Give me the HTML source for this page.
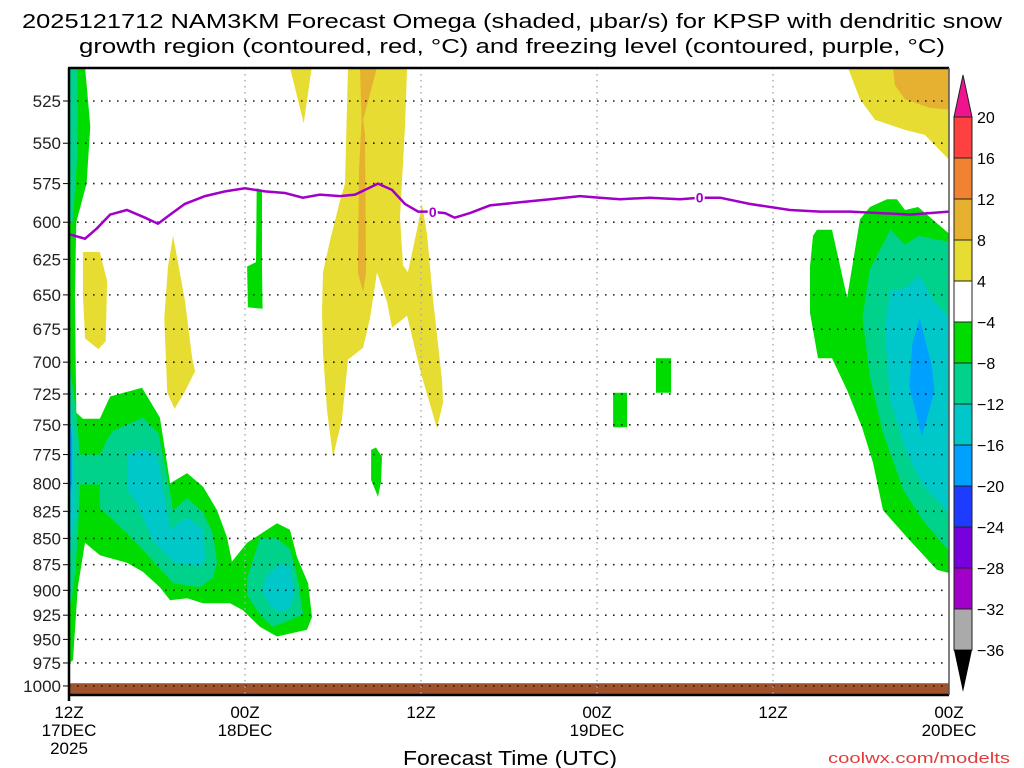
<!DOCTYPE html>
<html><head><meta charset="utf-8"><style>
html,body{margin:0;padding:0;background:#fff;width:1024px;height:768px;overflow:hidden}
svg{display:block;font-family:"Liberation Sans",sans-serif}
</style></head><body>
<svg id="chart" width="1024" height="768" viewBox="0 0 1024 768" xmlns="http://www.w3.org/2000/svg">
<text x="512" y="28" font-size="20" text-anchor="middle" textLength="980" lengthAdjust="spacingAndGlyphs">2025121712 NAM3KM Forecast Omega (shaded, μbar/s) for KPSP with dendritic snow</text>
<text x="512" y="53" font-size="20" text-anchor="middle" textLength="866" lengthAdjust="spacingAndGlyphs">growth region (contoured, red, °C) and freezing level (contoured, purple, °C)</text>
<g id="shades"></g>
<g id="grid"></g>
<g id="frz"></g>
<g id="axes"></g>
<g id="cbar"></g>
<text x="510" y="765" font-size="20" text-anchor="middle" textLength="214" lengthAdjust="spacingAndGlyphs">Forecast Time (UTC)</text>
<text x="1010" y="763" font-size="15" fill="#e03c3c" text-anchor="end" textLength="182" lengthAdjust="spacingAndGlyphs">coolwx.com/modelts</text>
</svg>
<script>
// ---- data (hours since 12Z 17DEC, pressure hPa) ----
const pressureTicks=[525,550,575,600,625,650,675,700,725,750,775,800,825,850,875,900,925,950,975,1000];
const timeTicks=[0,12,24,36,48,60];
const timeLabels=[["12Z","17DEC","2025"],["00Z","18DEC"],["12Z"],["00Z","19DEC"],["12Z"],["00Z","20DEC"]];
const cbLevels=[20,16,12,8,4,-4,-8,-12,-16,-20,-24,-28,-32,-36];
const cbColors=["#ff4040","#f08232","#e6b030","#e6dc32","#ffffff","#00dc00","#00d28c","#00c8c8","#00a0ff","#1e3cff","#7800dc","#a000c8","#aaaaaa"];
const frzHours=[0,1.09,1.91,2.8,3.95,5.18,6.07,6.89,7.9,9.27,10.64,12,13.36,14.73,15.95,17.1,18.48,19.5,20.18,21.07,22.02,22.9,23.8,24.6,25.64,26.3,27.34,28.7,30.75,32.8,34.84,36.2,37.57,39.6,41.66,43,44.39,46.4,49.16,51.2,53.25,55.3,57.34,60];
const frzPres=[608,611,604,595,592,597,601,595,588,583,580,578,580,581,584,582,583,582,579,575,579,588,593,593,594,597,594,589,587,585,583,584,585,584,585,584,584,588,592,593,593,594,595,593];
const frzLabelHours=[24.8,43.0];
const groundPres=[997,997];
const yellowAreas=[
 [[0.95,620],[2.1,620],[2.6,640],[2.5,684],[2.0,690],[1.1,682],[0.95,650]],
 [[7.1,609],[7.9,654],[8.4,697],[8.6,707],[7.9,723],[7.2,737],[6.7,724],[6.5,667],[6.75,630]],
 [[15.07,506],[16.55,506],[16.0,538]],
 [[19.02,506],[18.82,575],[18.48,586],[17.8,612],[17.32,634],[17.25,662],[17.32,693],[17.59,738],[18.0,777],[18.61,746],[19.02,698],[20.05,689],[20.52,667],[21.0,634],[21.68,655],[22.02,674],[23.05,665],[23.93,706],[25.09,753],[25.5,732],[25.43,714],[24.82,653],[24.41,608],[24.07,588],[23.73,605],[23.11,634],[22.77,629],[22.57,597],[22.91,540],[23.05,506]],
 [[53.11,506],[60,506],[60,560],[58.36,545],[57.0,542],[54.95,536],[53.93,524]]
];
const orangeAreas=[
 [[19.84,506],[21.0,506],[20.05,536],[20.18,544],[20.25,634],[20.05,648],[19.7,634],[19.77,567],[19.95,536]],
 [[56.18,506],[60,506],[60,530],[58.7,529],[57.0,524],[56.32,516]]
];
const greenAreas=[
 [[0,506],[1.1,506],[1.45,540],[1.2,575],[0.5,600],[0.4,650],[0.5,740],[0.95,745],[2.1,745],[2.8,727],[4.98,720],[6.2,744],[6.89,800],[8.05,791],[9.14,803],[10.1,824],[10.77,849],[11.11,872],[12.14,854],[14.18,836],[15.07,842],[15.55,868],[16.3,893],[16.57,927],[16.23,940],[14.18,947],[13.02,937],[11.86,920],[10.98,913],[9.14,913],[8.05,908],[6.89,910],[6.2,897],[5.05,882],[3.95,873],[2.11,866],[1.09,854],[0.6,897],[0.27,972],[0,975]],
 [[12.8,578],[13.16,579],[13.16,630],[13.2,660],[12.2,659],[12.14,630],[12.75,627]],
 [[20.93,769],[21.34,777],[21.27,799],[21.07,812],[20.6,797],[20.6,771]],
 [[37.1,724],[38.05,724],[38.05,752],[37.1,752]],
 [[40.02,697],[41.05,697],[41.05,724],[40.02,724]],
 [[51.0,605],[52.02,605],[53.05,652],[53.93,598],[54.61,590],[55.77,585],[56.45,585],[57.0,592],[57.89,590],[58.5,595],[59.93,607],[60,607],[60,883],[59.18,880],[57.13,849],[55.5,824],[54.82,782],[54.07,752],[53.05,722],[52.02,697],[51.07,697],[50.52,663],[50.52,630],[50.73,609]]
];
const tealAreas=[
 [[3.0,755],[5.05,744],[6.1,757],[6.7,795],[7.1,824],[8.05,813],[9.14,826],[9.8,845],[10.1,873],[9.8,888],[8.9,897],[7.1,893],[5.5,868],[3.95,845],[2.1,822],[2.1,801],[0.75,801],[0.75,775],[2.1,775],[2.6,762]],
 [[0,506],[0.55,506],[0.6,530],[0.55,560],[0.25,600],[0,600]],
 [[0,700],[0.5,740],[0.75,775],[0.75,801],[0.6,850],[0.3,900],[0,920]],
 [[13.0,850],[14.18,850],[15.07,860],[15.6,888],[15.95,924],[15.07,930],[13.9,937],[13.0,924],[12.14,905],[12.14,888]],
 [[56.0,605],[57.0,615],[57.9,609],[60,613],[60,862],[58.2,833],[56.9,806],[55.5,757],[54.6,711],[54.1,666],[54.6,632]]
];
const cyanAreas=[
 [[4.0,775],[5.05,770],[6.0,775],[6.7,826],[6.9,842],[8.05,830],[9.14,842],[9.3,870],[8.9,877],[7.1,872],[5.7,852],[4.6,817],[4.0,806]],
 [[0,730],[0.35,760],[0.4,830],[0,870]],
 [[13.5,885],[14.4,874],[15.07,877],[15.4,903],[15.07,918],[14.4,922],[13.7,915],[13.15,900]],
 [[56.0,647],[57.0,645],[58.0,636],[58.9,654],[60,666],[60,827],[58.2,801],[57.13,774],[56.0,730],[55.6,673]]
];
const blueAreas=[
 [[0,745],[0.22,760],[0.22,800],[0,812]],
 [[58.0,667],[58.85,704],[59.0,723],[58.16,760],[57.3,719],[57.5,686]]
];
// ---- scales ----
const X0=69,X1=949,Y0=68,Y1=695;
function xS(h){return X0+h*(X1-X0)/60;}
function yS(p){return 101+907.8*Math.log(p/525);}
const NS="http://www.w3.org/2000/svg";
function mk(tag,attrs,parent){const e=document.createElementNS(NS,tag);for(const k in attrs)e.setAttribute(k,attrs[k]);parent.appendChild(e);return e;}
const shades=document.getElementById('shades');
mk('rect',{x:X0,y:Y0,width:X1-X0,height:Y1-Y0,fill:'#fff'},shades);
function drawAreas(list,color,name){
 list.forEach(poly=>{
  const el=mk('polygon',{points:poly.map(q=>xS(q[0]).toFixed(1)+','+yS(q[1]).toFixed(1)).join(' '),fill:color},shades);
  
  
 });
}
drawAreas(yellowAreas,'#e6dc32','omega-4-8-area');
drawAreas(orangeAreas,'#e6b030','omega-8-12-area');
drawAreas(greenAreas,'#00dc00','omega-m4-m8-area');
drawAreas(tealAreas,'#00d28c','omega-m8-m12-area');
drawAreas(cyanAreas,'#00c8c8','omega-m12-m16-area');
drawAreas(blueAreas,'#00a0ff','omega-m16-m20-area');
// ground
const gnd=mk('rect',{x:X0,y:yS(groundPres[0]),width:X1-X0,height:Y1-yS(groundPres[0]),fill:'#a0522d'},shades);


// grid
const grid=document.getElementById('grid');
pressureTicks.forEach(p=>{
 const l=mk('line',{x1:X0,x2:X1,y1:yS(p),y2:yS(p),stroke:'#222','stroke-width':1.6,'stroke-dasharray':'1.6 6.4'},grid);
 
 
});
timeTicks.slice(1,-1).forEach(h=>{
 const l=mk('line',{x1:xS(h),x2:xS(h),y1:Y0,y2:Y1,stroke:'#aaa','stroke-width':1.4,'stroke-dasharray':'1.5 4.5'},grid);
 
 
});
// freezing line
const frz=document.getElementById('frz');
const fl=mk('polyline',{points:frzHours.map((h,i)=>xS(h).toFixed(1)+','+yS(frzPres[i]).toFixed(1)).join(' '),fill:'none',stroke:'#a000c8','stroke-width':2.5},frz);


frzLabelHours.forEach(h=>{
 let i=0;while(i<frzHours.length-1&&frzHours[i+1]<h)i++;
 const t=(h-frzHours[i])/(frzHours[i+1]-frzHours[i]);
 const p=frzPres[i]+t*(frzPres[i+1]-frzPres[i]);
 mk('rect',{x:xS(h)-5,y:yS(p)-8,width:10,height:15,fill:'#fff'},frz);
 const tx=mk('text',{x:xS(h),y:yS(p)+5,'font-size':14,'font-weight':'bold',fill:'#a000c8','text-anchor':'middle'},frz);
 tx.textContent='0';
 
 
});
// axes
const axes=document.getElementById('axes');
mk('line',{x1:X0-1,x2:X1,y1:Y0,y2:Y0,stroke:'#000','stroke-width':2.5},axes);
mk('line',{x1:X0-1,x2:X1,y1:Y1,y2:Y1,stroke:'#000','stroke-width':2.5},axes);
mk('line',{x1:X0,x2:X0,y1:Y0,y2:Y1+6,stroke:'#000','stroke-width':2.5},axes);
mk('line',{x1:X1,x2:X1,y1:Y0,y2:Y1,stroke:'#555','stroke-width':1.5},axes);
pressureTicks.forEach(p=>{
 mk('line',{x1:X0-6,x2:X0,y1:yS(p),y2:yS(p),stroke:'#000','stroke-width':1},axes);
 const t=mk('text',{x:X0-8,y:yS(p)+6,'font-size':17,'text-anchor':'end',fill:'#222'},axes);
 t.textContent=String(p);
 
 
});
timeTicks.forEach((h,i)=>{
 timeLabels[i].forEach((s,j)=>{
  const t=mk('text',{x:xS(h),y:718+j*18,'font-size':17,'text-anchor':'middle',fill:'#000'},axes);
  t.textContent=s;
  
  
 });
});
// colorbar
const cb=document.getElementById('cbar');
const CX=954,CW=18,CT=117,CSTEP=41;
cbColors.forEach((c,i)=>{
 const r=mk('rect',{x:CX,y:CT+i*CSTEP,width:CW,height:CSTEP,fill:c,stroke:'#222','stroke-width':1},cb);
 
 
});
const cbTop=mk('polygon',{points:`${CX},${CT} ${CX+CW},${CT} ${CX+CW/2},${CT-42}`,fill:'#f0148c',stroke:'#222','stroke-width':1},cb);


const bEnd=CT+cbColors.length*CSTEP;
const cbBot=mk('polygon',{points:`${CX},${bEnd} ${CX+CW},${bEnd} ${CX+CW/2},${bEnd+42}`,fill:'#000'},cb);


cbLevels.forEach((v,i)=>{
 const t=mk('text',{x:CX+CW+5,y:CT+i*CSTEP+6,'font-size':16,fill:'#000'},cb);
 t.textContent=v<0?'\u2212'+(-v):String(v);
 
 
});
</script>
</body></html>
